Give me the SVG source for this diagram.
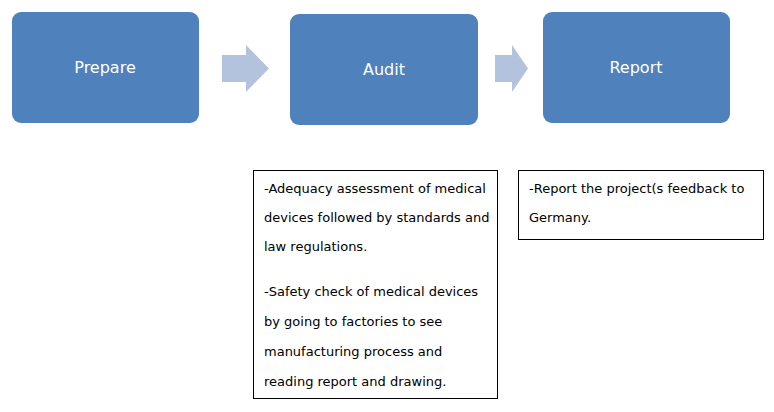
<svg xmlns="http://www.w3.org/2000/svg" width="774" height="412" viewBox="0 0 774 412">
<style>
.n{fill:#4F81BD}
.a{fill:#B3C3DD}
.t{font-family:"DejaVu Sans",Verdana,sans-serif;font-size:16px;fill:#fff;text-anchor:middle}
.b{fill:#fff;stroke:#000;stroke-width:1}
.s{font-family:"DejaVu Sans",Verdana,sans-serif;font-size:13px;fill:#000}
</style>
<rect width="774" height="412" fill="#fff"/>
<g id="prepare"><rect class="n" x="12" y="12" width="187" height="111" rx="9"/><text class="t" x="105" y="73">Prepare</text></g>
<g id="audit"><rect class="n" x="290" y="14" width="188" height="111" rx="9"/><text class="t" x="384" y="75">Audit</text></g>
<g id="report"><rect class="n" x="543" y="12" width="187" height="111" rx="9"/><text class="t" x="636" y="73">Report</text></g>
<g id="connectors">
<polygon class="a" points="222,55 246,55 246,45 269,68.5 246,92 246,82 222,82"/>
<polygon class="a" points="495,55 512,55 512,45 528,68.5 512,92 512,82 495,82"/>
</g>
<g id="audit-notes"><rect class="b" x="253.5" y="170.5" width="244" height="228"/>
<text class="s" x="264" y="193">-Adequacy assessment of medical</text>
<text class="s" x="264" y="222">devices followed by standards and</text>
<text class="s" x="264" y="251">law regulations.</text>
<text class="s" x="264" y="296">-Safety check of medical devices</text>
<text class="s" x="264" y="326">by going to factories to see</text>
<text class="s" x="264" y="356">manufacturing process and</text>
<text class="s" x="264" y="386">reading report and drawing.</text>
</g>
<g id="report-notes"><rect class="b" x="518.5" y="170.5" width="245" height="69"/>
<text class="s" x="529" y="193">-Report the project(s feedback to</text>
<text class="s" x="529" y="222">Germany.</text>
</g>
</svg>
